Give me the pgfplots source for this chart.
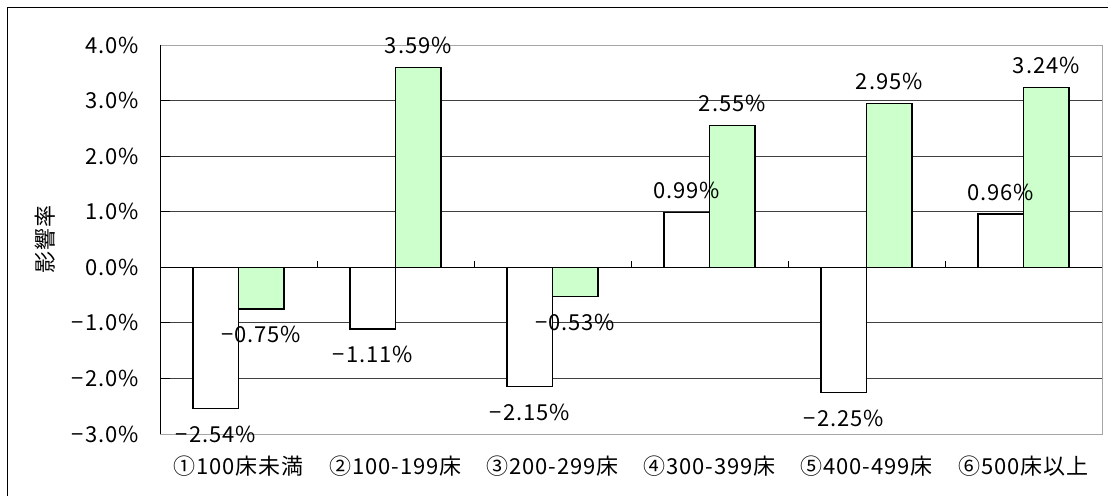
\documentclass[border=0pt]{standalone}
\usepackage{pgfplots}
\pgfplotsset{compat=1.18}
\usepackage{fontspec}
\setmainfont{Noto Sans CJK JP}[LetterSpace=4]
\definecolor{barGreen}{HTML}{CCFFCC}
\definecolor{gridC}{HTML}{404040}
\begin{document}
\begin{tikzpicture}
\path[use as bounding box] (0,0) rectangle (1108bp,-496bp);
\draw[line width=1bp] (7bp,-7bp) rectangle (1120bp,-510bp);
\begin{axis}[
  at={(160bp,-434bp)}, anchor=south west,
  scale only axis, width=942bp, height=389bp,
  font=\fontsize{22bp}{26bp}\selectfont,
  xmin=-0.5, xmax=5.5, ymin=-3, ymax=4,
  ybar=0pt, bar width=45.5bp,
  axis line style={draw=gray!70, line width=1bp},
  ytick={-3,-2,-1,0,1,2,3,4},
  yticklabels={−3.0\%,−2.0\%,−1.0\%,0.0\%,1.0\%,2.0\%,3.0\%,4.0\%},
  ytick pos=left, tick align=inside, major tick length=10bp,
  ytick style={draw=black, line width=1bp},
  yticklabel style={xshift=-18bp},
  ymajorgrids, grid style={draw=gridC, line width=0.8bp},
  xtick={0,1,2,3,4,5},
  xticklabels={①100床未満,②100-199床,③200-299床,④300-399床,⑤400-499床,⑥500床以上},
  xtick style={draw=none},
  xticklabel style={yshift=-18bp},
  every axis y label/.style={at={(rel axis cs:0,0.5)}, xshift=-115bp, rotate=90, anchor=center},
  ylabel={影響率},
  point meta=explicit symbolic,
  nodes near coords,
  visualization depends on={rawy \as \rawy},
  every node near coord/.append style={font=\fontsize{22bp}{26bp}\selectfont, inner sep=2bp,
     anchor=\ifdim\rawy pt<0pt north\else south\fi,
     yshift={ifthenelse(\rawy<0,-15,11)*1bp}},
]
\addplot[draw=black, fill=white, line width=1.2bp] coordinates {
  (0,-2.54) [−2.54\%]
  (1,-1.11) [−1.11\%]
  (2,-2.15) [−2.15\%]
  (3,0.99) [0.99\%]
  (4,-2.25) [−2.25\%]
  (5,0.96) [0.96\%]
};
\addplot[draw=black, fill=barGreen, line width=1.2bp] coordinates {
  (0,-0.75) [−0.75\%]
  (1,3.59) [3.59\%]
  (2,-0.53) [−0.53\%]
  (3,2.55) [2.55\%]
  (4,2.95) [2.95\%]
  (5,3.24) [3.24\%]
};
\draw[black, line width=1bp] (rel axis cs:0,0) -- (rel axis cs:0,1);
\draw[black, line width=1bp] (axis cs:-0.5,0) -- (axis cs:5.5,0);
\draw[black, line width=0.8bp] (axis cs:0.5,0) -- (axis cs:0.5,0.11);
\draw[black, line width=0.8bp] (axis cs:1.5,0) -- (axis cs:1.5,0.11);
\draw[black, line width=0.8bp] (axis cs:2.5,0) -- (axis cs:2.5,0.11);
\draw[black, line width=0.8bp] (axis cs:3.5,0) -- (axis cs:3.5,0.11);
\draw[black, line width=0.8bp] (axis cs:4.5,0) -- (axis cs:4.5,0.11);
\end{axis}
\end{tikzpicture}
\end{document}
